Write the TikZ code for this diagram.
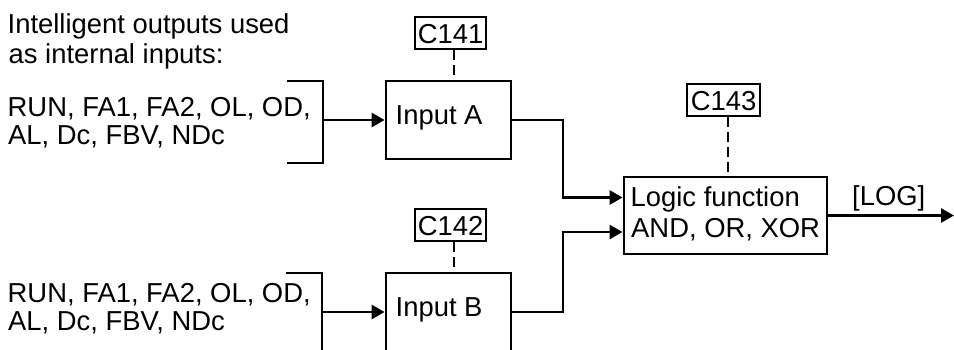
\documentclass[tikz,border=0pt]{standalone}
\usepackage{fontspec}
\setmainfont{Liberation Sans}
\usetikzlibrary{arrows.meta,calc}
\begin{document}
\begin{tikzpicture}[x=1pt,y=-1pt,
  every node/.style={font=\fontsize{27.4}{30}\selectfont},
  lbl/.style={anchor=base west,inner sep=0pt},
  clbl/.style={anchor=base,inner sep=0pt},
  blockbox/.style={draw,line width=2.8pt,inner sep=0pt},
  parbox/.style={draw,line width=2.5pt,inner sep=0pt,minimum height=32pt},
  wire/.style={line width=2.8pt},
  arr/.style={wire,-{Triangle[length=13pt,width=14pt]}},
  dsh/.style={line width=2.8pt,dash pattern=on 10pt off 5pt}]
\clip (0,0) rectangle (954,349);
\useasboundingbox (0,0) rectangle (954,349);
% left texts
\node[lbl] (t1) at (7.5,33) {Intelligent outputs used};
\node[lbl] (t2) at (8.5,63) {as internal inputs:};
\node[lbl] (t3) at (7.5,116) {RUN, FA1, FA2, OL, OD,};
\node[lbl] (t4) at (8,144) {AL, Dc, FBV, NDc};
\node[lbl] (t5) at (7.5,302) {RUN, FA1, FA2, OL, OD,};
\node[lbl] (t6) at (8,330) {AL, Dc, FBV, NDc};
% blocks
\node[blockbox,minimum width=125pt,minimum height=78pt] (A) at (448.5,120) {};
\node[lbl] (tA) at (395.5,124) {Input A};
\node[blockbox,minimum width=125pt,minimum height=78pt] (B) at (448.5,312) {};
\node[lbl] (tB) at (395.5,316) {Input B};
\node[blockbox,minimum width=203pt,minimum height=77pt] (L) at (725.5,215.5) {};
\node[lbl] (tL1) at (630.5,206) {Logic function};
\node[lbl] (tL2) at (631,237) {AND, OR, XOR};
% parameter boxes
\node[parbox,minimum width=71pt] (C1) at (450.5,33) {};
\node[clbl] at (450.5,43) {C141};
\node[parbox,minimum width=71pt] (C2) at (450.5,225) {};
\node[clbl] at (450.5,235) {C142};
\node[parbox,minimum width=73pt] (C3) at (723.5,100) {};
\node[clbl] at (723.5,110) {C143};
% dashed links
\coordinate (d1) at (454,0);
\coordinate (d3) at (728,0);
\draw[dsh] (C1.south -| d1) -- (A.north -| d1);
\draw[dsh] (C2.south -| d1) -- (B.north -| d1);
\draw[dsh] (C3.south -| d3) -- (L.north -| d3);
% brackets
\coordinate (sA) at (323,120);
\coordinate (sB) at (322,312);
\draw[wire] (287,81) -- (323,81) -- (323,163) -- (287,163);
\draw[wire] (286,273) -- (322,273) -- (322,360);
\draw[arr] (sA) -- (A.west);
\draw[arr] (sB) -- (B.west);
% into logic
\coordinate (j) at (563,0);
\draw[arr] (A.east) -- (A.east -| j) |- ($(L.west)+(0,-18)$);
\draw[arr] (B.east) -- (B.east -| j) |- ($(L.west)+(0,16.5)$);
% output
\coordinate (out) at (954,215.5);
\draw[arr] (L.east) -- (out);
\node[lbl] (log) at (852,205) {[LOG]};
\end{tikzpicture}
\end{document}
